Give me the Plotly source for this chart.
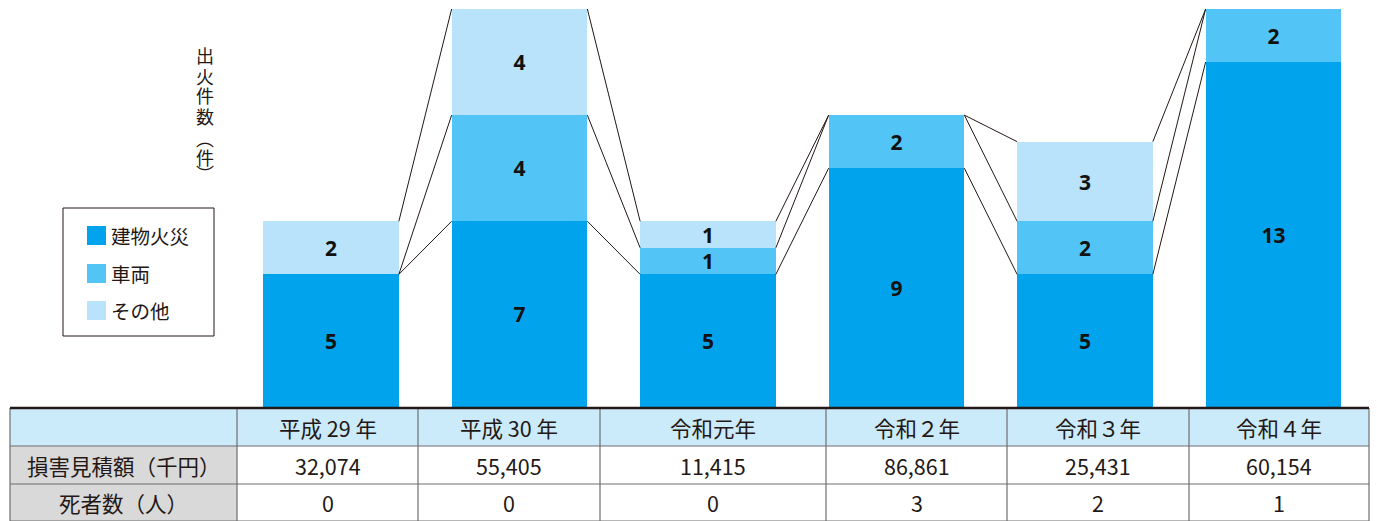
import plotly.graph_objects as go

# ---- data ----
years = ["平成 29 年", "平成 30 年", "令和元年", "令和２年", "令和３年", "令和４年"]
series_names = ["建物火災", "車両", "その他"]
building = [5, 7, 5, 9, 5, 13]
vehicle = [0, 4, 1, 2, 2, 2]
other = [2, 4, 1, 0, 3, 0]
damage = [32074, 55405, 11415, 86861, 25431, 60154]
deaths = [0, 0, 0, 3, 2, 1]
row_labels = ["損害見積額（千円）", "死者数（人）"]
y_title = "出火件数︵件︶"

colors = ["#00A3EC", "#52C5F6", "#B8E3FA"]
W, H = 1377, 521
FONT = "Noto Sans CJK JP"
TXT = "#231815"


def px(x):
    return x / W


def py(y):
    return 1 - y / H


# pixel mapping of the plot area
x0_pix, step = 331, 188.5
bar_w = 0.72
base_pix, top_pix = 407, 9

fig = go.Figure()
xs = list(range(len(years)))
series = [building, vehicle, other]
for name, vals, col in zip(series_names, series, colors):
    fig.add_trace(go.Bar(
        x=xs, y=vals, name=name, width=bar_w,
        marker=dict(color=col, line=dict(width=0)),
        text=[str(v) if v > 0 else "" for v in vals],
        textposition="inside", insidetextanchor="middle",
        textangle=0, constraintext="none",
        textfont=dict(family="Noto Sans", size=21, color="#111111", weight="bold"),
        showlegend=False, hoverinfo="skip",
    ))

# connecting series lines
levels = []
cum = [0] * len(years)
for vals in series:
    cum = [c + v for c, v in zip(cum, vals)]
    levels.append(list(cum))
lx, ly = [], []
for lev in levels:
    for i in range(len(years) - 1):
        lx += [i + bar_w / 2, i + 1 - bar_w / 2, None]
        ly += [lev[i], lev[i + 1], None]
fig.add_trace(go.Scatter(x=lx, y=ly, mode="lines",
                         line=dict(color=TXT, width=1),
                         showlegend=False, hoverinfo="skip"))

shapes = []
annotations = []

# ---- table ----
col_edges = [10, 237, 418, 600, 826, 1007, 1189, 1369]
row_edges = [408, 446, 484, 521]
header_fill = "#CCEBFA"
grey_fill = "#D9D9D9"
line_col = "#6E6E6E"

for r in range(3):
    for c in range(len(col_edges) - 1):
        if r == 0:
            fill = header_fill
        elif c == 0:
            fill = grey_fill
        else:
            fill = "white"
        shapes.append(dict(type="rect", xref="paper", yref="paper",
                           x0=px(col_edges[c]), x1=px(col_edges[c + 1]),
                           y0=py(row_edges[r + 1]), y1=py(row_edges[r]),
                           fillcolor=fill, line=dict(width=0), layer="below"))
for yv in row_edges[1:]:
    shapes.append(dict(type="line", xref="paper", yref="paper",
                       x0=px(col_edges[0]), x1=px(col_edges[-1]),
                       y0=py(yv), y1=py(yv), line=dict(color=line_col, width=1.2)))
for xv in col_edges:
    shapes.append(dict(type="line", xref="paper", yref="paper",
                       x0=px(xv), x1=px(xv),
                       y0=py(row_edges[-1]), y1=py(row_edges[0]),
                       line=dict(color=line_col, width=1.2)))
shapes.append(dict(type="line", xref="paper", yref="paper",
                   x0=px(col_edges[0]), x1=px(col_edges[-1]),
                   y0=py(row_edges[0]), y1=py(row_edges[0]),
                   line=dict(color=TXT, width=2.5)))

rows_text = [[""] + years,
             [row_labels[0]] + [f"{v:,}" for v in damage],
             [row_labels[1]] + [str(v) for v in deaths]]
for r, row in enumerate(rows_text):
    yc = (row_edges[r] + row_edges[r + 1]) / 2
    for c, t in enumerate(row):
        if not t:
            continue
        xc = (col_edges[c] + col_edges[c + 1]) / 2
        annotations.append(dict(x=px(xc), y=py(yc), xref="paper", yref="paper",
                                text=t, showarrow=False,
                                font=dict(family=FONT, size=21.5, color=TXT),
                                xanchor="center", yanchor="middle"))

# ---- legend (drawn) ----
shapes.append(dict(type="rect", xref="paper", yref="paper",
                   x0=px(63), x1=px(214), y0=py(336), y1=py(208),
                   line=dict(color=TXT, width=1), fillcolor="white"))
leg_y = [235.5, 273.5, 310.5]
for name, col, yc in zip(series_names, colors, leg_y):
    shapes.append(dict(type="rect", xref="paper", yref="paper",
                       x0=px(87), x1=px(106), y0=py(yc + 9.5), y1=py(yc - 9.5),
                       fillcolor=col, line=dict(width=0)))
    annotations.append(dict(x=px(109), y=py(yc), xref="paper", yref="paper",
                            text=name, showarrow=False,
                            font=dict(family=FONT, size=19.5, color=TXT),
                            xanchor="left", yanchor="middle"))

# ---- vertical axis title (one glyph per annotation, vertical writing) ----
title_y = [55.5, 75.5, 95.5, 115.5, 138, 156.5, 173]
for ch, yc in zip(y_title, title_y):
    annotations.append(dict(x=px(205), y=py(yc), xref="paper", yref="paper",
                            text=ch, showarrow=False,
                            font=dict(family=FONT, size=18, color=TXT),
                            xanchor="center", yanchor="middle",
                            borderpad=0))

x_lo = -x0_pix / step
x_hi = (W - x0_pix) / step
fig.update_layout(
    width=W, height=H,
    margin=dict(l=0, r=0, t=0, b=0),
    paper_bgcolor="white", plot_bgcolor="rgba(0,0,0,0)",
    barmode="stack", bargap=0,
    xaxis=dict(range=[x_lo, x_hi], domain=[0, 1], visible=False, fixedrange=True),
    yaxis=dict(range=[0, 15], domain=[py(base_pix), py(top_pix)], visible=False, fixedrange=True),
    shapes=shapes, annotations=annotations,
    uniformtext=dict(minsize=21, mode="show"),
    font=dict(family=FONT),
)

fig.write_html("out.html", config={"displayModeBar": False},
               post_script="document.body.style.margin='0';document.body.style.padding='0';")
